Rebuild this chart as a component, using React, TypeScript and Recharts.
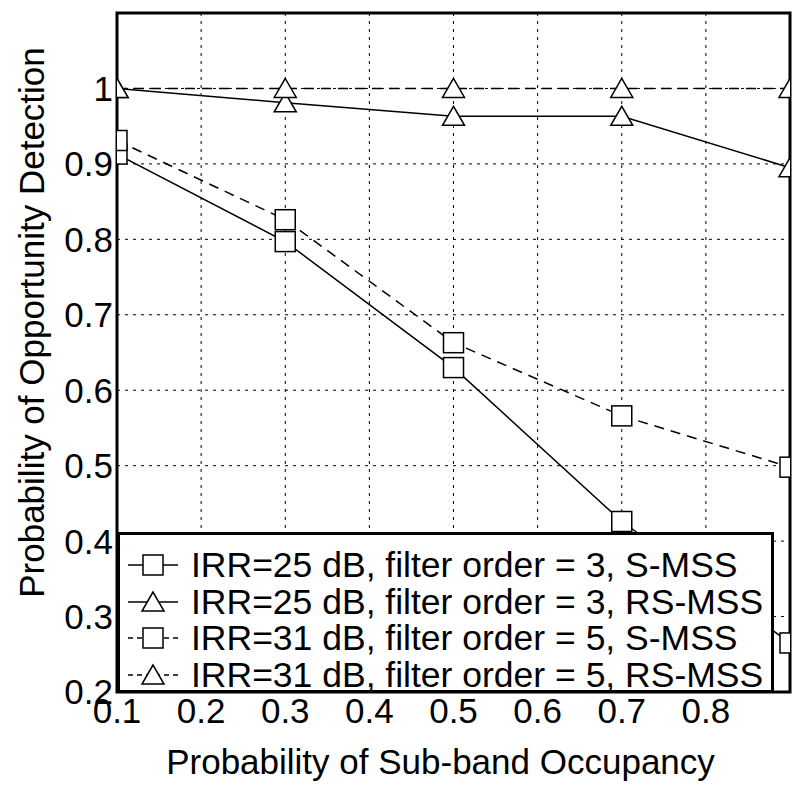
import React from 'react';
import { LineChart, Line, XAxis, YAxis, CartesianGrid, Legend, ReferenceArea } from 'recharts';

// sub-band occupancy probabilities
const occupancy = [0.1, 0.3, 0.5, 0.7, 0.9];

// probability of opportunity detection
const smss25 = [0.913, 0.797, 0.63, 0.426, 0.265];
const rsmss25 = [1.0, 0.981, 0.963, 0.963, 0.895];
const smss31 = [0.931, 0.826, 0.663, 0.566, 0.498];
const rsmss31 = [1.0, 1.0, 1.0, 1.0, 1.0];

const xTicks = [0.1, 0.2, 0.3, 0.4, 0.5, 0.6, 0.7, 0.8, 0.9];
const yTicks = [0.2, 0.3, 0.4, 0.5, 0.6, 0.7, 0.8, 0.9, 1.0, 1.1];

const legendLabels = [
  'IRR=25 dB, filter order = 3, S-MSS',
  'IRR=25 dB, filter order = 3, RS-MSS',
  'IRR=31 dB, filter order = 5, S-MSS',
  'IRR=31 dB, filter order = 5, RS-MSS',
];

const data = occupancy.map((x, i) => ({
  x,
  smss25: smss25[i],
  rsmss25: rsmss25[i],
  smss31: smss31[i],
  rsmss31: rsmss31[i],
}));

const FONT = '"Liberation Sans", Arial, sans-serif';
const FS = 35;
const DASH = '10 7';

const Square = ({ cx, cy }: { cx: number; cy: number }) => (
  <rect x={cx - 10} y={cy - 10} width={20} height={20} fill="#fff" stroke="#000" strokeWidth={1.5} />
);

const Triangle = ({ cx, cy }: { cx: number; cy: number }) => (
  <polygon
    points={`${cx},${cy - 10} ${cx - 11},${cy + 9} ${cx + 11},${cy + 9}`}
    fill="#fff"
    stroke="#000"
    strokeWidth={1.5}
  />
);

const squareDot = (props: any) =>
  props.cx == null ? null : <g key={`s-${props.index}`}><Square cx={props.cx} cy={props.cy} /></g>;
const triangleDot = (props: any) =>
  props.cx == null ? null : <g key={`t-${props.index}`}><Triangle cx={props.cx} cy={props.cy} /></g>;

const LegendBox = () => (
  <div
    style={{
      width: 657,
      height: 161,
      boxSizing: 'border-box',
      border: '3px solid #000',
      background: '#fff',
      padding: '12px 0 0 8px',
      fontFamily: FONT,
      fontSize: 35.5,
      color: '#000',
    }}
  >
    {legendLabels.map((label, i) => (
      <div key={label} style={{ display: 'flex', alignItems: 'center', height: 36.5 }}>
        <svg width={56} height={30} style={{ marginRight: 7, flexShrink: 0 }}>
          <line x1={0} y1={15} x2={50} y2={15} stroke="#000" strokeWidth={1.5} strokeDasharray={i < 2 ? undefined : '5 4'} />
          {i % 2 === 0 ? <Square cx={25} cy={15} /> : <Triangle cx={25} cy={15} />}
        </svg>
        <span style={{ whiteSpace: 'nowrap', lineHeight: '36.5px' }}>{label}</span>
      </div>
    ))}
  </div>
);

const App = () => {
  return (
    <div style={{ position: 'absolute', left: 0, top: 0, background: '#fff' }}>
      <LineChart width={793} height={788} data={data} margin={{ top: 13, right: 3, left: 0, bottom: 0 }}>
        <CartesianGrid stroke="#000" strokeWidth={1} strokeDasharray="3 5" />
        <XAxis
          dataKey="x"
          type="number"
          domain={[0.1, 0.9]}
          ticks={xTicks}
          allowDataOverflow
          height={96}
          tickLine={false}
          axisLine={false}
          tickSize={0}
          tickMargin={6}
          tickFormatter={(v: number) => (v >= 0.89 ? '' : v.toFixed(1))}
          tick={{ fill: '#000', fontSize: FS, fontFamily: FONT }}
          label={{
            value: 'Probability of Sub-band Occupancy',
            position: 'insideBottom',
            offset: 14,
            dx: -13,
            fill: '#000',
            fontSize: FS,
            fontFamily: FONT,
          }}
        />
        <YAxis
          type="number"
          domain={[0.2, 1.1]}
          ticks={yTicks}
          allowDataOverflow
          width={117}
          tickLine={false}
          axisLine={false}
          tickSize={0}
          tickMargin={4}
          tickFormatter={(v: number) => (v > 1.05 ? '' : v > 0.99 ? '1' : v.toFixed(1))}
          tick={{ fill: '#000', fontSize: FS, fontFamily: FONT }}
          label={{
            value: 'Probability of Opportunity Detection',
            angle: -90,
            position: 'insideLeft',
            offset: 32,
            dy: -30,
            fill: '#000',
            fontSize: FS,
            fontFamily: FONT,
            style: { textAnchor: 'middle' },
          }}
        />
        <ReferenceArea x1={0.1} x2={0.9} y1={0.2} y2={1.1} fill="none" stroke="#000" strokeWidth={3} ifOverflow="visible" />
        <Line dataKey="smss25" stroke="#000" strokeWidth={1.5} dot={squareDot} isAnimationActive={false} />
        <Line dataKey="rsmss25" stroke="#000" strokeWidth={1.5} dot={triangleDot} isAnimationActive={false} />
        <Line dataKey="smss31" stroke="#000" strokeWidth={1.5} strokeDasharray={DASH} dot={squareDot} isAnimationActive={false} />
        <Line dataKey="rsmss31" stroke="#000" strokeWidth={1.5} strokeDasharray={DASH} dot={triangleDot} isAnimationActive={false} />
        <Legend
          layout="vertical"
          align="center"
          verticalAlign="middle"
          content={() => <LegendBox />}
          wrapperStyle={{ position: 'absolute', left: 117, top: 532, width: 657, height: 161, margin: 0 }}
        />
      </LineChart>
    </div>
  );
};

export default App;
